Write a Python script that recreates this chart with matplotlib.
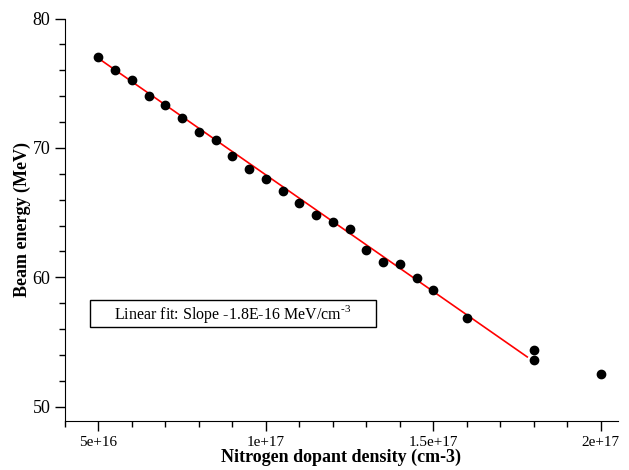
'''
Beam energy vs nitrogen dopant density, with linear fit.
'''

import matplotlib
matplotlib.use('Agg')
import matplotlib.pyplot as plt
from matplotlib.patches import Rectangle
from matplotlib.ticker import MultipleLocator

########
# DATA #
########

density = [5e16, 5.5e16, 6e16, 6.5e16, 7e16, 7.5e16, 8e16, 8.5e16, 9e16, 9.5e16,
           1e17, 1.05e17, 1.1e17, 1.15e17, 1.2e17, 1.25e17, 1.3e17, 1.35e17, 1.4e17,
           1.45e17, 1.5e17, 1.6e17, 1.8e17, 1.8e17, 2e17]
energy = [77.0, 76.03, 75.28, 74.04, 73.30, 72.32, 71.24, 70.60, 69.39, 68.36,
          67.62, 66.71, 65.76, 64.84, 64.27, 63.76, 62.11, 61.19, 61.03,
          59.95, 59.05, 56.89, 54.37, 53.63, 52.55]

# linear fit endpoints
fit_x = [5e16, 1.78e17]
fit_y = [76.92, 53.85]

fit_label = r'Linear fit: Slope -1.8E-16 MeV/cm$^{\text{-3}}$'

########
# PLOT #
########

plt.rcParams['font.family'] = ['Liberation Serif', 'DejaVu Serif']
plt.rcParams['mathtext.fontset'] = 'custom'
plt.rcParams['mathtext.rm'] = 'Liberation Serif'

fig = plt.figure(figsize=(6.29, 4.70), dpi=100)
ax = fig.add_axes([0.1033, 0.1043, 0.8787, 0.8563])

ax.plot(fit_x, fit_y, color='red', lw=1.2, zorder=2)
ax.plot(density, energy, 'o', color='black', ms=6, zorder=3)

ax.set_xlim(4e16, 2.05e17)
ax.set_ylim(48.9, 80)

ax.set_xticks([5e16, 1e17, 1.5e17, 2e17])
ax.set_xticklabels(['5e+16', '1e+17', '1.5e+17', '2e+17'])
ax.xaxis.set_minor_locator(MultipleLocator(1e16))
ax.set_yticks([50, 60, 70, 80])
ax.yaxis.set_minor_locator(MultipleLocator(2))

ax.tick_params(which='major', length=7, width=1, labelsize=11)
ax.tick_params(axis='y', which='major', labelsize=13)
ax.tick_params(which='minor', length=4, width=1)

ax.spines['top'].set_visible(False)
ax.spines['right'].set_visible(False)

ax.set_xlabel('Nitrogen dopant density (cm-3)', fontweight='bold', fontsize=13, labelpad=0)
ax.set_ylabel('Beam energy (MeV)', fontweight='bold', fontsize=13, labelpad=1)

ax.add_patch(Rectangle((0.0452, 0.2328), 0.518, 0.0686, transform=ax.transAxes,
                       fill=False, edgecolor='black', lw=1))
ax.text(0.0892, 0.267, fit_label, transform=ax.transAxes, va='center', ha='left', fontsize=11.5)

plt.savefig('out.png')
